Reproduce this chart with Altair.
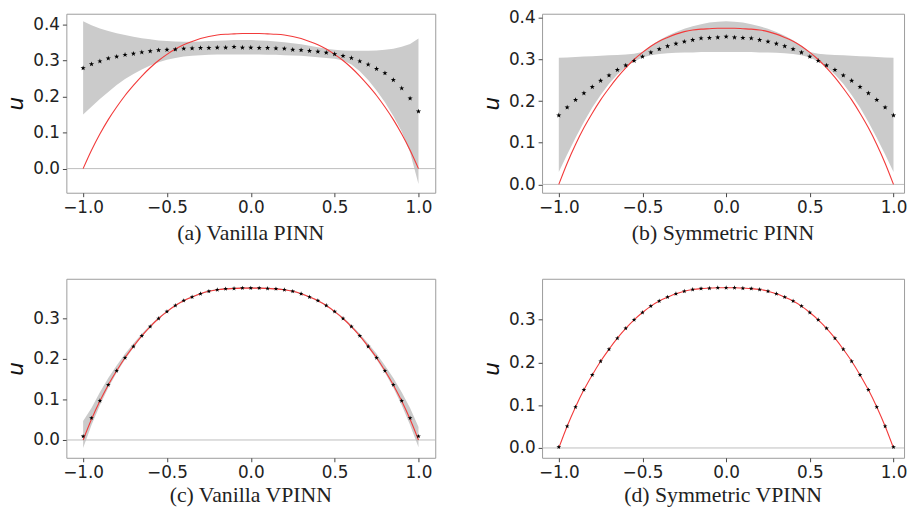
import altair as alt
import pandas as pd

# ---------------- data ----------------
X = [-1.0, -0.95, -0.9, -0.85, -0.8, -0.75, -0.7, -0.65, -0.6, -0.55, -0.5,
     -0.45, -0.4, -0.35, -0.3, -0.25, -0.2, -0.15, -0.1, -0.05, 0.0,
     0.05, 0.1, 0.15, 0.2, 0.25, 0.3, 0.35, 0.4, 0.45, 0.5,
     0.55, 0.6, 0.65, 0.7, 0.75, 0.8, 0.85, 0.9, 0.95, 1.0]

# exact solution (red line)
EXACT = [0.0, 0.051, 0.096, 0.136, 0.171, 0.203, 0.231, 0.257, 0.280, 0.300, 0.317,
         0.332, 0.344, 0.353, 0.361, 0.367, 0.371, 0.373, 0.374, 0.375, 0.375,
         0.375, 0.374, 0.373, 0.371, 0.367, 0.361, 0.353, 0.344, 0.332, 0.317,
         0.300, 0.280, 0.257, 0.231, 0.203, 0.171, 0.136, 0.096, 0.051, 0.0]

# (a) Vanilla PINN
A_MEAN = [0.279, 0.290, 0.298, 0.306, 0.311, 0.316, 0.319, 0.323, 0.326, 0.329, 0.330,
          0.331, 0.333, 0.334, 0.335, 0.335, 0.336, 0.336, 0.338, 0.336, 0.336,
          0.335, 0.335, 0.334, 0.333, 0.330, 0.329, 0.327, 0.325, 0.322, 0.318,
          0.313, 0.307, 0.298, 0.289, 0.277, 0.265, 0.246, 0.223, 0.195, 0.159]
A_HI = [0.409, 0.398, 0.389, 0.382, 0.376, 0.371, 0.366, 0.362, 0.359, 0.356, 0.354,
        0.353, 0.352, 0.352, 0.353, 0.354, 0.355, 0.356, 0.357, 0.357, 0.357,
        0.356, 0.355, 0.353, 0.351, 0.348, 0.345, 0.341, 0.337, 0.333, 0.330,
        0.328, 0.327, 0.327, 0.327, 0.328, 0.330, 0.333, 0.338, 0.346, 0.361]
A_LO = [0.150, 0.172, 0.193, 0.213, 0.232, 0.249, 0.263, 0.275, 0.286, 0.295, 0.302,
        0.307, 0.311, 0.313, 0.315, 0.316, 0.317, 0.317, 0.317, 0.317, 0.317,
        0.317, 0.316, 0.316, 0.315, 0.314, 0.313, 0.311, 0.309, 0.307, 0.305,
        0.300, 0.289, 0.270, 0.246, 0.217, 0.184, 0.146, 0.103, 0.045, -0.043]

# (b) Symmetric PINN
B_MEAN = [0.166, 0.185, 0.203, 0.219, 0.234, 0.249, 0.262, 0.275, 0.286, 0.297, 0.307,
          0.317, 0.325, 0.332, 0.338, 0.343, 0.347, 0.351, 0.352, 0.353, 0.355,
          0.353, 0.352, 0.351, 0.347, 0.343, 0.338, 0.332, 0.325, 0.317, 0.307,
          0.297, 0.286, 0.275, 0.262, 0.249, 0.234, 0.219, 0.203, 0.185, 0.166]
B_HI = [0.304, 0.305, 0.306, 0.307, 0.308, 0.309, 0.310, 0.311, 0.312, 0.314, 0.318,
        0.333, 0.346, 0.357, 0.366, 0.374, 0.380, 0.385, 0.389, 0.391, 0.392,
        0.391, 0.389, 0.385, 0.380, 0.374, 0.366, 0.357, 0.346, 0.333, 0.318,
        0.314, 0.312, 0.311, 0.310, 0.309, 0.308, 0.307, 0.306, 0.305, 0.304]
B_LO = [0.030, 0.072, 0.112, 0.150, 0.185, 0.215, 0.242, 0.264, 0.282, 0.295, 0.305,
        0.310, 0.313, 0.315, 0.316, 0.317, 0.317, 0.318, 0.318, 0.318, 0.318,
        0.318, 0.318, 0.318, 0.317, 0.317, 0.316, 0.315, 0.313, 0.310, 0.305,
        0.295, 0.282, 0.264, 0.242, 0.215, 0.185, 0.150, 0.112, 0.072, 0.030]

# (c) Vanilla VPINN
C_MEAN = [0.009, 0.054, 0.097, 0.136, 0.171, 0.203, 0.231, 0.257, 0.280, 0.300, 0.317,
          0.332, 0.344, 0.353, 0.361, 0.367, 0.371, 0.373, 0.374, 0.375, 0.375,
          0.375, 0.374, 0.373, 0.371, 0.367, 0.361, 0.353, 0.344, 0.332, 0.317,
          0.300, 0.280, 0.257, 0.231, 0.203, 0.171, 0.136, 0.097, 0.054, 0.009]
C_HI = [0.047, 0.079, 0.118, 0.153, 0.184, 0.213, 0.238, 0.262, 0.284, 0.303, 0.319,
        0.334, 0.346, 0.355, 0.363, 0.369, 0.373, 0.375, 0.376, 0.377, 0.377,
        0.377, 0.376, 0.375, 0.373, 0.369, 0.363, 0.355, 0.346, 0.334, 0.319,
        0.303, 0.284, 0.262, 0.238, 0.213, 0.184, 0.153, 0.118, 0.079, 0.032]
C_LO = [-0.020, 0.037, 0.086, 0.129, 0.166, 0.199, 0.228, 0.255, 0.278, 0.299, 0.316,
        0.331, 0.343, 0.352, 0.360, 0.366, 0.370, 0.372, 0.373, 0.374, 0.374,
        0.374, 0.373, 0.372, 0.370, 0.366, 0.360, 0.352, 0.343, 0.331, 0.316,
        0.299, 0.278, 0.255, 0.228, 0.199, 0.166, 0.129, 0.086, 0.037, -0.018]

# (d) Symmetric VPINN
D_MEAN = [0.002, 0.051, 0.096, 0.136, 0.171, 0.203, 0.231, 0.257, 0.280, 0.300, 0.317,
          0.332, 0.344, 0.353, 0.361, 0.367, 0.371, 0.373, 0.374, 0.375, 0.375,
          0.375, 0.374, 0.373, 0.371, 0.367, 0.361, 0.353, 0.344, 0.332, 0.317,
          0.300, 0.280, 0.257, 0.231, 0.203, 0.171, 0.136, 0.096, 0.051, 0.002]

X_TICKS = [-1.0, -0.5, 0.0, 0.5, 1.0]
Y_TICKS_TOP = [0.0, 0.1, 0.2, 0.3, 0.4]
Y_TICKS_BOTTOM = [0.0, 0.1, 0.2, 0.3]
CAPTIONS = ["(a) Vanilla PINN", "(b) Symmetric PINN", "(c) Vanilla VPINN", "(d) Symmetric VPINN"]

# ---------------- styling ----------------
STAR = ("M0,-1L0.235,-0.324L0.951,-0.309L0.38,0.124L0.588,0.809L0,0.4"
        "L-0.588,0.809L-0.38,0.124L-0.951,-0.309L-0.235,-0.324Z")
H = 181


def panel(mean, lo, hi, ydom, yticks, caption, dot_size, width, xmax, cap_offset):
    df = pd.DataFrame({"x": X, "u": mean, "exact": EXACT})
    if lo is not None:
        df["lo"] = lo
        df["hi"] = hi
    xs = alt.Scale(domain=[-1.1, xmax], nice=False, zero=False)
    ys = alt.Scale(domain=ydom, nice=False, zero=False)
    xax = alt.Axis(values=X_TICKS, format=".1f", title=None)
    yax = alt.Axis(values=yticks, format=".1f", title="u")
    layers = []
    if lo is not None:
        layers.append(
            alt.Chart(df).mark_area(color="#cbcbcb", opacity=1).encode(
                x=alt.X("x:Q", scale=xs, axis=xax),
                y=alt.Y("lo:Q", scale=ys, axis=yax),
                y2="hi:Q",
            )
        )
    layers.append(
        alt.Chart(pd.DataFrame({"z": [0.0]})).mark_rule(color="#bdbdbd", strokeWidth=1).encode(
            y=alt.Y("z:Q", scale=ys, axis=yax)
        )
    )
    layers.append(
        alt.Chart(df).mark_line(color="#f23a3a", strokeWidth=1.1, interpolate="monotone").encode(
            x=alt.X("x:Q", scale=xs, axis=xax),
            y=alt.Y("exact:Q", scale=ys, axis=yax),
        )
    )
    layers.append(
        alt.Chart(df).mark_point(shape=STAR, filled=True, color="black", opacity=1,
                                 size=dot_size).encode(
            x=alt.X("x:Q", scale=xs, axis=xax),
            y=alt.Y("u:Q", scale=ys, axis=yax),
        )
    )
    return alt.layer(*layers).properties(
        width=width, height=H,
        title=alt.TitleParams(caption, orient="bottom", font="Liberation Serif", fontSize=22,
                              fontWeight="normal", color="#222222", offset=cap_offset,
                              anchor="middle"),
    )


pa = panel(A_MEAN, A_LO, A_HI, [-0.067, 0.430], Y_TICKS_TOP, CAPTIONS[0], 30, 373, 1.1, 8)
pb = panel(B_MEAN, B_LO, B_HI, [-0.020, 0.410], Y_TICKS_TOP, CAPTIONS[1], 30, 366, 1.063, 8)
pc = panel(C_MEAN, C_LO, C_HI, [-0.044, 0.398], Y_TICKS_BOTTOM, CAPTIONS[2], 24, 373, 1.1, 5)
pd_ = panel(D_MEAN, None, None, [-0.023, 0.396], Y_TICKS_BOTTOM, CAPTIONS[3], 24, 366, 1.063, 5)

chart = alt.concat(
    pa, pb, pc, pd_, columns=2,
    spacing={"row": 87, "column": 108}, bounds="flush",
).properties(
    padding={"left": -4, "top": -3, "right": 0, "bottom": 0}
).configure_view(
    stroke="#9c9c9c", strokeWidth=1
).configure_axis(
    domain=False, grid=False,
    labelFont="DejaVu Sans", labelFontSize=17, labelColor="#222222",
    tickColor="#444444", tickSize=4, tickWidth=1,
    titleFont="DejaVu Sans", titleFontSize=22, titleFontStyle="italic",
    titleFontWeight="normal", titleColor="#111111",
).configure_axisX(labelPadding=3).configure_axisY(labelPadding=3, titlePadding=5)

chart.save("out.html", embed_options={"renderer": "svg", "actions": False})
